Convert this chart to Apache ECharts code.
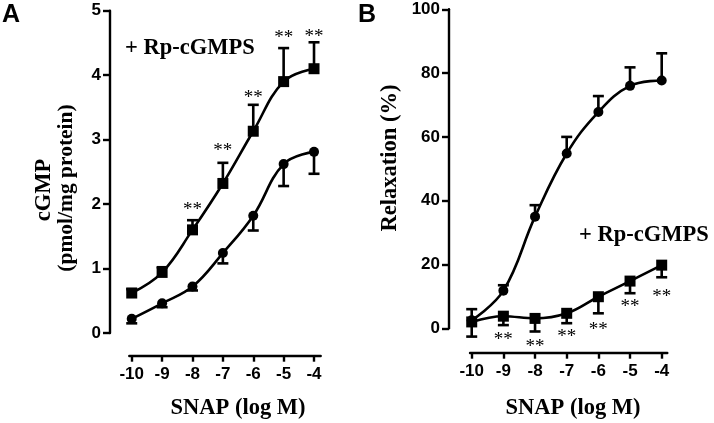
<!DOCTYPE html>
<html>
<head>
<meta charset="utf-8">
<script src="https://cdn.jsdelivr.net/npm/echarts@6/dist/echarts.min.js"></script>
<style>html,body{margin:0;padding:0;background:#fff;}#c{width:714px;height:423px;}</style>
</head>
<body>
<div id="c"></div>
<script>
// ---- data ----
const xTicks = [-10, -9, -8, -7, -6, -5, -4];
const cgmpControl    = [0.22, 0.46, 0.72, 1.24, 1.82, 2.62, 2.81];
const cgmpControlErr = [0.15, 0.40, 0.66, 1.08, 1.59, 2.28, 2.47];
const cgmpRp         = [0.62, 0.94, 1.60, 2.32, 3.13, 3.90, 4.10];
const cgmpRpErr      = [0.68, 1.02, 1.75, 2.64, 3.54, 4.42, 4.51];
const cgmpStars      = [null, null, 1.97, 2.88, 3.70, 4.64, 4.65];
const relaxControl    = [2.5, 11.8, 35.0, 54.8, 67.8, 76.0, 77.7];
const relaxControlErr = [6.0, 13.5, 38.6, 60.0, 72.8, 81.8, 86.2];
const relaxRp         = [2.0, 3.8, 3.1, 4.7, 9.9, 14.8, 19.8];
const relaxRpErr      = [-2.6, 1.0, -1.0, 1.6, 4.7, 11.0, 16.0];
const relaxStars      = [null, -2.4, -4.7, -1.4, 0.7, 8.0, 11.2];
const yTicksA = [0, 1, 2, 3, 4, 5];
const yTicksB = [0, 20, 40, 60, 80, 100];

const SANS = '"Liberation Sans", Arial, sans-serif';
const SERIF = '"Liberation Serif", "Times New Roman", serif';

const pairs = (ys) => xTicks.map((x, i) => [x, ys[i]]);
const errData = (ys, es) => xTicks.map((x, i) => [x, ys[i], es[i]]);
const starData = (ss) => xTicks.map((x, i) => [x, ss[i]]).filter(d => d[1] !== null);

function errRender(params, api) {
  const p0 = api.coord([api.value(0), api.value(1)]);
  const p1 = api.coord([api.value(0), api.value(2)]);
  const hw = 5.5;
  return {
    type: 'group',
    children: [
      { type: 'line', shape: { x1: p0[0], y1: p0[1], x2: p1[0], y2: p1[1] }, style: { stroke: '#000', lineWidth: 2.6 } },
      { type: 'line', shape: { x1: p1[0] - hw, y1: p1[1], x2: p1[0] + hw, y2: p1[1] }, style: { stroke: '#000', lineWidth: 2.6 } }
    ]
  };
}
function starRender(params, api) {
  const p = api.coord([api.value(0), api.value(1)]);
  return {
    type: 'text',
    x: p[0], y: p[1] + 4,
    style: { text: '**', fill: '#000', font: '19px ' + SERIF, align: 'center', verticalAlign: 'middle' }
  };
}

function xAxisCfg(gi, min, max, offset) {
  return {
    type: 'value', gridIndex: gi, min: min, max: max, offset: offset,
    axisLine: { show: true, onZero: false, lineStyle: { color: '#000', width: 2.4 } },
    axisTick: { show: true, customValues: xTicks, length: 6, inside: false, lineStyle: { color: '#000', width: 2.4 } },
    axisLabel: { show: true, customValues: xTicks, margin: 10, color: '#000', fontFamily: SANS, fontWeight: 'bold', fontSize: 17,
                 formatter: v => String(Math.round(v)) },
    splitLine: { show: false }
  };
}
function yAxisCfg(gi, max, interval, offset) {
  return {
    type: 'value', gridIndex: gi, min: 0, max: max, interval: interval, offset: offset,
    axisLine: { show: true, lineStyle: { color: '#000', width: 2.4 } },
    axisTick: { show: true, length: 7, inside: false, lineStyle: { color: '#000', width: 2.4 } },
    axisLabel: { show: true, margin: 9, color: '#000', fontFamily: SANS, fontWeight: 'bold', fontSize: 17 },
    splitLine: { show: false }
  };
}
function lineSeries(xi, ys, symbol, size) {
  return {
    type: 'line', xAxisIndex: xi, yAxisIndex: xi, data: pairs(ys), smooth: 0.4,
    symbol: symbol, symbolSize: size, showSymbol: true,
    lineStyle: { color: '#000', width: 2.6 }, itemStyle: { color: '#000' }, z: 3, animation: false
  };
}
function errSeries(xi, ys, es) {
  return { type: 'custom', xAxisIndex: xi, yAxisIndex: xi, data: errData(ys, es), renderItem: errRender, clip: false, z: 2, animation: false };
}
function starSeries(xi, ss) {
  return { type: 'custom', xAxisIndex: xi, yAxisIndex: xi, data: starData(ss), renderItem: starRender, clip: false, z: 4, animation: false };
}

const chart = echarts.init(document.getElementById('c'), null, { renderer: 'canvas' });
chart.setOption({
  animation: false,
  backgroundColor: '#fff',
  grid: [
    { left: 129.3, top: 10.7, width: 191.4, height: 322.3 },
    { left: 470, top: 9.3, width: 197.3, height: 319 }
  ],
  xAxis: [
    xAxisCfg(0, -10.08, -3.78, 22.7),
    xAxisCfg(1, -10.054, -3.823, 24.4)
  ],
  yAxis: [
    yAxisCfg(0, 5, 1, 19.3),
    yAxisCfg(1, 100, 20, 21)
  ],
  series: [
    errSeries(0, cgmpControl, cgmpControlErr),
    errSeries(0, cgmpRp, cgmpRpErr),
    lineSeries(0, cgmpControl, 'circle', 10),
    lineSeries(0, cgmpRp, 'rect', 11),
    starSeries(0, cgmpStars),
    errSeries(1, relaxControl, relaxControlErr),
    errSeries(1, relaxRp, relaxRpErr),
    lineSeries(1, relaxControl, 'circle', 10),
    lineSeries(1, relaxRp, 'rect', 11),
    starSeries(1, relaxStars)
  ],
  graphic: [
    { type: 'text', left: 2, top: 3, style: { text: 'A', font: 'bold 25px ' + SANS, fill: '#000' } },
    { type: 'text', left: 358, top: 3, style: { text: 'B', font: 'bold 25px ' + SANS, fill: '#000' } },
    { type: 'text', x: 125, y: 48, style: { text: '+ Rp-cGMPS', font: 'bold 22.5px ' + SERIF, fill: '#000', align: 'left', verticalAlign: 'middle' } },
    { type: 'text', x: 579, y: 235, style: { text: '+ Rp-cGMPS', font: 'bold 22.5px ' + SERIF, fill: '#000', align: 'left', verticalAlign: 'middle' } },
    { type: 'text', x: 238, y: 408, style: { text: 'SNAP (log M)', font: 'bold 22.5px ' + SERIF, fill: '#000', align: 'center', verticalAlign: 'middle' } },
    { type: 'text', x: 573, y: 408, style: { text: 'SNAP (log M)', font: 'bold 22.5px ' + SERIF, fill: '#000', align: 'center', verticalAlign: 'middle' } },
    { type: 'text', x: 44, y: 190, rotation: Math.PI / 2, style: { text: 'cGMP', font: 'bold 22.5px ' + SERIF, fill: '#000', align: 'center', verticalAlign: 'middle' } },
    { type: 'text', x: 66, y: 188, rotation: Math.PI / 2, style: { text: '(pmol/mg protein)', font: 'bold 21.5px ' + SERIF, fill: '#000', align: 'center', verticalAlign: 'middle' } },
    { type: 'text', x: 390, y: 158, rotation: Math.PI / 2, style: { text: 'Relaxation (%)', font: 'bold 22.5px ' + SERIF, fill: '#000', align: 'center', verticalAlign: 'middle' } }
  ]
});
</script>
</body>
</html>
